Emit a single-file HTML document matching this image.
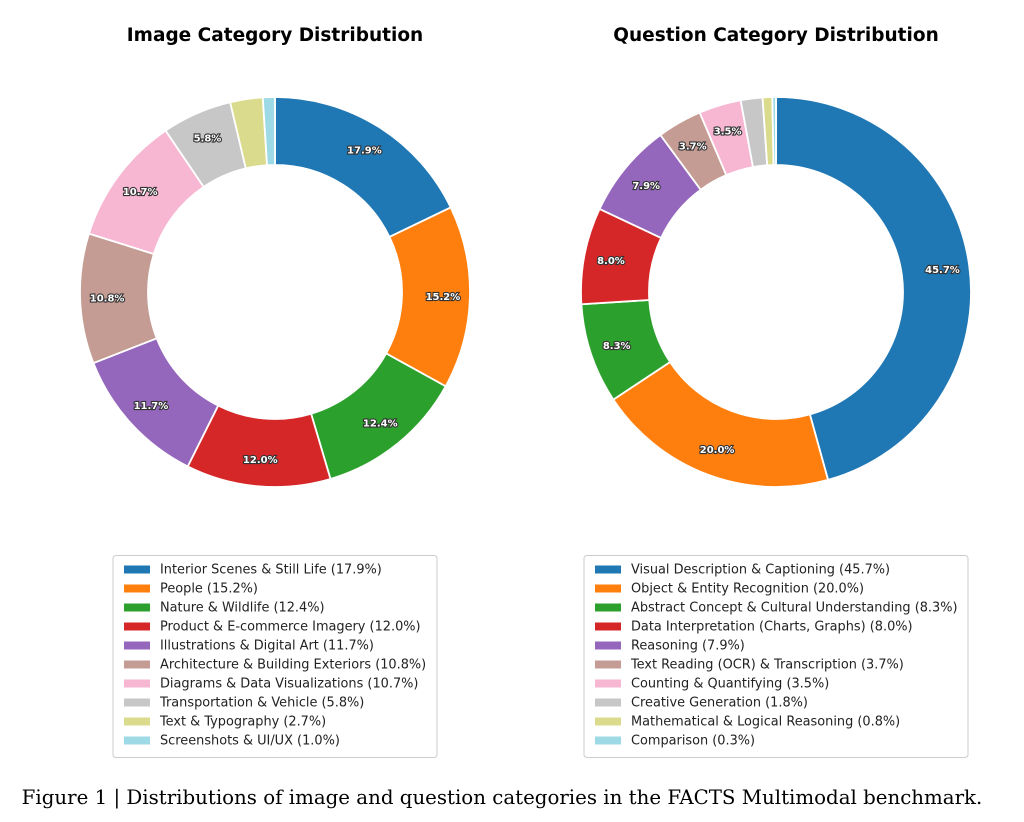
<!DOCTYPE html>
<html><head><meta charset="utf-8"><style>
body{margin:0;background:#fff;}
svg{display:block;}
</style></head><body>
<svg id="s" width="1024" height="822" xmlns="http://www.w3.org/2000/svg" font-family="DejaVu Sans, Liberation Sans, sans-serif">
<rect width="1024" height="822" fill="#fff"/>
<text x="275" y="41" text-anchor="middle" font-size="18.5" font-weight="bold">Image Category Distribution</text>
<text x="776" y="41" text-anchor="middle" font-size="18.5" font-weight="bold">Question Category Distribution</text>
<g id="g"></g>
<text x="502" y="804" text-anchor="middle" font-size="19.8" font-family="DejaVu Serif, Liberation Serif, serif">Figure 1 | Distributions of image and question categories in the FACTS Multimodal benchmark.</text>
</svg>
<script>
const A=[["Interior Scenes & Still Life",17.9],["People",15.2],["Nature & Wildlife",12.4],["Product & E-commerce Imagery",12.0],["Illustrations & Digital Art",11.7],["Architecture & Building Exteriors",10.8],["Diagrams & Data Visualizations",10.7],["Transportation & Vehicle",5.8],["Text & Typography",2.7],["Screenshots & UI/UX",1.0]];
const B=[["Visual Description & Captioning",45.7],["Object & Entity Recognition",20.0],["Abstract Concept & Cultural Understanding",8.3],["Data Interpretation (Charts, Graphs)",8.0],["Reasoning",7.9],["Text Reading (OCR) & Transcription",3.7],["Counting & Quantifying",3.5],["Creative Generation",1.8],["Mathematical & Logical Reasoning",0.8],["Comparison",0.3]];
const cols=["#1f77b4","#ff7f0e","#2ca02c","#d62728","#9467bd","#c49c94","#f7b6d2","#c7c7c7","#dbdb8d","#9edae5"];
let h="";
function donut(cx,cy,d){const R=195,r=127;let tot=d.reduce((a,b)=>a+b[1],0);let a0=90;
d.forEach((e,i)=>{let sw=e[1]/tot*360;let a1=a0-sw;const p=(a,rr)=>[cx+rr*Math.cos(a*Math.PI/180),cy-rr*Math.sin(a*Math.PI/180)];
let [x1,y1]=p(a0,R),[x2,y2]=p(a1,R),[x3,y3]=p(a1,r),[x4,y4]=p(a0,r);let lg=sw>180?1:0;
h+=`<path d="M${x1},${y1}A${R},${R} 0 ${lg} 1 ${x2},${y2}L${x3},${y3}A${r},${r} 0 ${lg} 0 ${x4},${y4}Z" fill="${cols[i]}" stroke="#fff" stroke-width="1.8"/>`;
if(e[1]>=3){let [lx,ly]=p((a0+a1)/2,168);h+=`<text x="${lx}" y="${ly+3.5}" text-anchor="middle" font-size="10" font-weight="bold" fill="#fff" stroke="#333" stroke-width="2.2" paint-order="stroke">${e[1].toFixed(1)}%</text>`;}
a0=a1;});}
donut(275,292,A);donut(776,292,B);
function legend(x,w,d){h+=`<rect x="${x}" y="555.5" width="${w}" height="202" rx="3" fill="#fff" stroke="#ccc" stroke-width="1"/>`;
d.forEach((e,i)=>{let y=569+i*19;h+=`<rect x="${x+11}" y="${y-3.5}" width="26" height="8" fill="${cols[i]}"/><text x="${x+47}" y="${y+4.5}" font-size="12.9" fill="#222">${e[0].replace(/&/g,'&amp;')} (${e[1].toFixed(1)}%)</text>`;});}
legend(113,324,A);legend(584,384,B);
document.getElementById("g").innerHTML=h;
</script>
</body></html>
